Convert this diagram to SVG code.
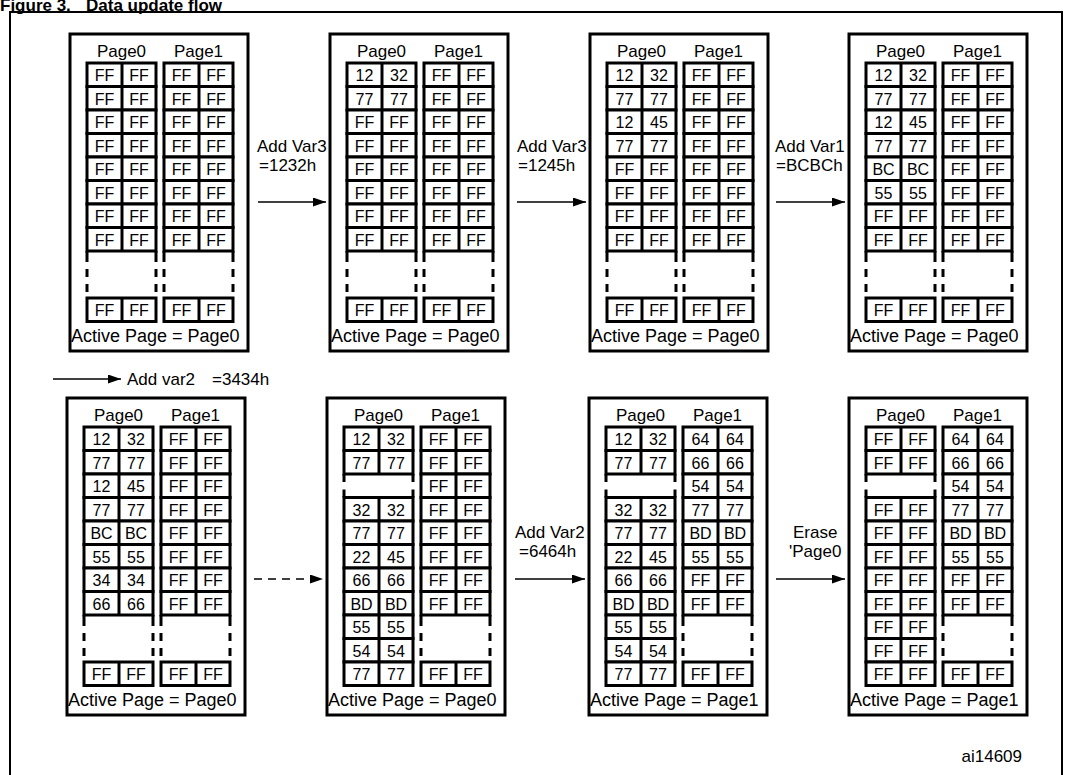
<svg xmlns="http://www.w3.org/2000/svg" xmlns:xlink="http://www.w3.org/1999/xlink" width="1074" height="775" viewBox="0 0 1074 775">
<style>
.f{fill:#fff;stroke:#000;stroke-width:3}
.b{fill:none;stroke:#000;stroke-width:3}
.pb{fill:#fff;stroke:#000;stroke-width:3}
text{font-family:"Liberation Sans",Arial,sans-serif;fill:#000}
.r{font-size:16px;text-anchor:middle}
.h{font-size:17px;text-anchor:middle}
.ap{font-size:18px}
.lb{font-size:17px}
.cn{stroke:#000;stroke-width:1.5;fill:none}
.ttl{font-size:17px;font-weight:bold}
</style>
<defs>
<marker id="ah" markerUnits="userSpaceOnUse" markerWidth="13" markerHeight="9" refX="13" refY="4.5" orient="auto"><path d="M0,0 L13,4.5 L0,9 Z" fill="#000"/></marker>
<g id="row"><rect class="f" x="0" y="0" width="69" height="23.5"/><line class="b" x1="35" y1="0" x2="35" y2="23.5"/></g>
<path id="brk" class="b" d="M0 188V199M0 206V214M0 221V229M69 188V199M69 206V214M69 221V229"/>
<path id="gp" class="b" d="M0 47V55M0 62.5V70.5M69 47V55M69 62.5V70.5"/>
<g id="col8"><use href="#row" y="0"/><use href="#row" y="23.5"/><use href="#row" y="47"/><use href="#row" y="70.5"/><use href="#row" y="94"/><use href="#row" y="117.5"/><use href="#row" y="141"/><use href="#row" y="164.5"/><use href="#brk"/><use href="#row" y="235"/></g>
<g id="colg"><use href="#row" y="0"/><use href="#row" y="23.5"/><use href="#gp"/><use href="#row" y="70.5"/><use href="#row" y="94"/><use href="#row" y="117.5"/><use href="#row" y="141"/><use href="#row" y="164.5"/><use href="#row" y="188"/><use href="#row" y="211.5"/><use href="#row" y="235"/></g>
<g id="frame"><rect class="pb" x="0" y="0" width="178" height="317"/><text class="h" x="51.5" y="23">Page0</text><text class="h" x="128.5" y="23">Page1</text></g>
</defs>
<text class="ttl" x="0" y="11">Figure 3.</text>
<text class="ttl" x="86" y="11">Data update flow</text>
<rect x="10" y="12" width="1052" height="800" fill="none" stroke="#000" stroke-width="2"/>

<g id="p1" transform="translate(70,34)">
<use href="#frame"/><use href="#col8" x="17" y="29"/><use href="#col8" x="94" y="29"/>
<g class="r">
<text y="47"><tspan x="34.5">FF</tspan><tspan x="69">FF</tspan><tspan x="111.5">FF</tspan><tspan x="146">FF</tspan></text>
<text y="70.5"><tspan x="34.5">FF</tspan><tspan x="69">FF</tspan><tspan x="111.5">FF</tspan><tspan x="146">FF</tspan></text>
<text y="94"><tspan x="34.5">FF</tspan><tspan x="69">FF</tspan><tspan x="111.5">FF</tspan><tspan x="146">FF</tspan></text>
<text y="117.5"><tspan x="34.5">FF</tspan><tspan x="69">FF</tspan><tspan x="111.5">FF</tspan><tspan x="146">FF</tspan></text>
<text y="141"><tspan x="34.5">FF</tspan><tspan x="69">FF</tspan><tspan x="111.5">FF</tspan><tspan x="146">FF</tspan></text>
<text y="164.5"><tspan x="34.5">FF</tspan><tspan x="69">FF</tspan><tspan x="111.5">FF</tspan><tspan x="146">FF</tspan></text>
<text y="188"><tspan x="34.5">FF</tspan><tspan x="69">FF</tspan><tspan x="111.5">FF</tspan><tspan x="146">FF</tspan></text>
<text y="211.5"><tspan x="34.5">FF</tspan><tspan x="69">FF</tspan><tspan x="111.5">FF</tspan><tspan x="146">FF</tspan></text>
<text y="282"><tspan x="34.5">FF</tspan><tspan x="69">FF</tspan><tspan x="111.5">FF</tspan><tspan x="146">FF</tspan></text>
</g>
<text class="ap" x="1" y="308">Active Page = Page0</text>
</g>

<g id="p2" transform="translate(330,34)">
<use href="#frame"/><use href="#col8" x="17" y="29"/><use href="#col8" x="94" y="29"/>
<g class="r">
<text y="47"><tspan x="34.5">12</tspan><tspan x="69">32</tspan><tspan x="111.5">FF</tspan><tspan x="146">FF</tspan></text>
<text y="70.5"><tspan x="34.5">77</tspan><tspan x="69">77</tspan><tspan x="111.5">FF</tspan><tspan x="146">FF</tspan></text>
<text y="94"><tspan x="34.5">FF</tspan><tspan x="69">FF</tspan><tspan x="111.5">FF</tspan><tspan x="146">FF</tspan></text>
<text y="117.5"><tspan x="34.5">FF</tspan><tspan x="69">FF</tspan><tspan x="111.5">FF</tspan><tspan x="146">FF</tspan></text>
<text y="141"><tspan x="34.5">FF</tspan><tspan x="69">FF</tspan><tspan x="111.5">FF</tspan><tspan x="146">FF</tspan></text>
<text y="164.5"><tspan x="34.5">FF</tspan><tspan x="69">FF</tspan><tspan x="111.5">FF</tspan><tspan x="146">FF</tspan></text>
<text y="188"><tspan x="34.5">FF</tspan><tspan x="69">FF</tspan><tspan x="111.5">FF</tspan><tspan x="146">FF</tspan></text>
<text y="211.5"><tspan x="34.5">FF</tspan><tspan x="69">FF</tspan><tspan x="111.5">FF</tspan><tspan x="146">FF</tspan></text>
<text y="282"><tspan x="34.5">FF</tspan><tspan x="69">FF</tspan><tspan x="111.5">FF</tspan><tspan x="146">FF</tspan></text>
</g>
<text class="ap" x="1" y="308">Active Page = Page0</text>
</g>

<g id="p3" transform="translate(590,34)">
<use href="#frame"/><use href="#col8" x="17" y="29"/><use href="#col8" x="94" y="29"/>
<g class="r">
<text y="47"><tspan x="34.5">12</tspan><tspan x="69">32</tspan><tspan x="111.5">FF</tspan><tspan x="146">FF</tspan></text>
<text y="70.5"><tspan x="34.5">77</tspan><tspan x="69">77</tspan><tspan x="111.5">FF</tspan><tspan x="146">FF</tspan></text>
<text y="94"><tspan x="34.5">12</tspan><tspan x="69">45</tspan><tspan x="111.5">FF</tspan><tspan x="146">FF</tspan></text>
<text y="117.5"><tspan x="34.5">77</tspan><tspan x="69">77</tspan><tspan x="111.5">FF</tspan><tspan x="146">FF</tspan></text>
<text y="141"><tspan x="34.5">FF</tspan><tspan x="69">FF</tspan><tspan x="111.5">FF</tspan><tspan x="146">FF</tspan></text>
<text y="164.5"><tspan x="34.5">FF</tspan><tspan x="69">FF</tspan><tspan x="111.5">FF</tspan><tspan x="146">FF</tspan></text>
<text y="188"><tspan x="34.5">FF</tspan><tspan x="69">FF</tspan><tspan x="111.5">FF</tspan><tspan x="146">FF</tspan></text>
<text y="211.5"><tspan x="34.5">FF</tspan><tspan x="69">FF</tspan><tspan x="111.5">FF</tspan><tspan x="146">FF</tspan></text>
<text y="282"><tspan x="34.5">FF</tspan><tspan x="69">FF</tspan><tspan x="111.5">FF</tspan><tspan x="146">FF</tspan></text>
</g>
<text class="ap" x="1" y="308">Active Page = Page0</text>
</g>

<g id="p4" transform="translate(849,34)">
<use href="#frame"/><use href="#col8" x="17" y="29"/><use href="#col8" x="94" y="29"/>
<g class="r">
<text y="47"><tspan x="34.5">12</tspan><tspan x="69">32</tspan><tspan x="111.5">FF</tspan><tspan x="146">FF</tspan></text>
<text y="70.5"><tspan x="34.5">77</tspan><tspan x="69">77</tspan><tspan x="111.5">FF</tspan><tspan x="146">FF</tspan></text>
<text y="94"><tspan x="34.5">12</tspan><tspan x="69">45</tspan><tspan x="111.5">FF</tspan><tspan x="146">FF</tspan></text>
<text y="117.5"><tspan x="34.5">77</tspan><tspan x="69">77</tspan><tspan x="111.5">FF</tspan><tspan x="146">FF</tspan></text>
<text y="141"><tspan x="34.5">BC</tspan><tspan x="69">BC</tspan><tspan x="111.5">FF</tspan><tspan x="146">FF</tspan></text>
<text y="164.5"><tspan x="34.5">55</tspan><tspan x="69">55</tspan><tspan x="111.5">FF</tspan><tspan x="146">FF</tspan></text>
<text y="188"><tspan x="34.5">FF</tspan><tspan x="69">FF</tspan><tspan x="111.5">FF</tspan><tspan x="146">FF</tspan></text>
<text y="211.5"><tspan x="34.5">FF</tspan><tspan x="69">FF</tspan><tspan x="111.5">FF</tspan><tspan x="146">FF</tspan></text>
<text y="282"><tspan x="34.5">FF</tspan><tspan x="69">FF</tspan><tspan x="111.5">FF</tspan><tspan x="146">FF</tspan></text>
</g>
<text class="ap" x="1" y="308">Active Page = Page0</text>
</g>

<g id="p5" transform="translate(67,398)">
<use href="#frame"/><use href="#col8" x="17" y="29"/><use href="#col8" x="94" y="29"/>
<g class="r">
<text y="47"><tspan x="34.5">12</tspan><tspan x="69">32</tspan><tspan x="111.5">FF</tspan><tspan x="146">FF</tspan></text>
<text y="70.5"><tspan x="34.5">77</tspan><tspan x="69">77</tspan><tspan x="111.5">FF</tspan><tspan x="146">FF</tspan></text>
<text y="94"><tspan x="34.5">12</tspan><tspan x="69">45</tspan><tspan x="111.5">FF</tspan><tspan x="146">FF</tspan></text>
<text y="117.5"><tspan x="34.5">77</tspan><tspan x="69">77</tspan><tspan x="111.5">FF</tspan><tspan x="146">FF</tspan></text>
<text y="141"><tspan x="34.5">BC</tspan><tspan x="69">BC</tspan><tspan x="111.5">FF</tspan><tspan x="146">FF</tspan></text>
<text y="164.5"><tspan x="34.5">55</tspan><tspan x="69">55</tspan><tspan x="111.5">FF</tspan><tspan x="146">FF</tspan></text>
<text y="188"><tspan x="34.5">34</tspan><tspan x="69">34</tspan><tspan x="111.5">FF</tspan><tspan x="146">FF</tspan></text>
<text y="211.5"><tspan x="34.5">66</tspan><tspan x="69">66</tspan><tspan x="111.5">FF</tspan><tspan x="146">FF</tspan></text>
<text y="282"><tspan x="34.5">FF</tspan><tspan x="69">FF</tspan><tspan x="111.5">FF</tspan><tspan x="146">FF</tspan></text>
</g>
<text class="ap" x="1" y="308">Active Page = Page0</text>
</g>

<g id="p6" transform="translate(327,398)">
<use href="#frame"/><use href="#colg" x="17" y="29"/><use href="#col8" x="94" y="29"/>
<g class="r">
<text y="47"><tspan x="34.5">12</tspan><tspan x="69">32</tspan><tspan x="111.5">FF</tspan><tspan x="146">FF</tspan></text>
<text y="70.5"><tspan x="34.5">77</tspan><tspan x="69">77</tspan><tspan x="111.5">FF</tspan><tspan x="146">FF</tspan></text>
<text y="94"><tspan x="111.5">FF</tspan><tspan x="146">FF</tspan></text>
<text y="117.5"><tspan x="34.5">32</tspan><tspan x="69">32</tspan><tspan x="111.5">FF</tspan><tspan x="146">FF</tspan></text>
<text y="141"><tspan x="34.5">77</tspan><tspan x="69">77</tspan><tspan x="111.5">FF</tspan><tspan x="146">FF</tspan></text>
<text y="164.5"><tspan x="34.5">22</tspan><tspan x="69">45</tspan><tspan x="111.5">FF</tspan><tspan x="146">FF</tspan></text>
<text y="188"><tspan x="34.5">66</tspan><tspan x="69">66</tspan><tspan x="111.5">FF</tspan><tspan x="146">FF</tspan></text>
<text y="211.5"><tspan x="34.5">BD</tspan><tspan x="69">BD</tspan><tspan x="111.5">FF</tspan><tspan x="146">FF</tspan></text>
<text y="235"><tspan x="34.5">55</tspan><tspan x="69">55</tspan></text>
<text y="258.5"><tspan x="34.5">54</tspan><tspan x="69">54</tspan></text>
<text y="282"><tspan x="34.5">77</tspan><tspan x="69">77</tspan><tspan x="111.5">FF</tspan><tspan x="146">FF</tspan></text>
</g>
<text class="ap" x="1" y="308">Active Page = Page0</text>
</g>

<g id="p7" transform="translate(589,398)">
<use href="#frame"/><use href="#colg" x="17" y="29"/><use href="#col8" x="94" y="29"/>
<g class="r">
<text y="47"><tspan x="34.5">12</tspan><tspan x="69">32</tspan><tspan x="111.5">64</tspan><tspan x="146">64</tspan></text>
<text y="70.5"><tspan x="34.5">77</tspan><tspan x="69">77</tspan><tspan x="111.5">66</tspan><tspan x="146">66</tspan></text>
<text y="94"><tspan x="111.5">54</tspan><tspan x="146">54</tspan></text>
<text y="117.5"><tspan x="34.5">32</tspan><tspan x="69">32</tspan><tspan x="111.5">77</tspan><tspan x="146">77</tspan></text>
<text y="141"><tspan x="34.5">77</tspan><tspan x="69">77</tspan><tspan x="111.5">BD</tspan><tspan x="146">BD</tspan></text>
<text y="164.5"><tspan x="34.5">22</tspan><tspan x="69">45</tspan><tspan x="111.5">55</tspan><tspan x="146">55</tspan></text>
<text y="188"><tspan x="34.5">66</tspan><tspan x="69">66</tspan><tspan x="111.5">FF</tspan><tspan x="146">FF</tspan></text>
<text y="211.5"><tspan x="34.5">BD</tspan><tspan x="69">BD</tspan><tspan x="111.5">FF</tspan><tspan x="146">FF</tspan></text>
<text y="235"><tspan x="34.5">55</tspan><tspan x="69">55</tspan></text>
<text y="258.5"><tspan x="34.5">54</tspan><tspan x="69">54</tspan></text>
<text y="282"><tspan x="34.5">77</tspan><tspan x="69">77</tspan><tspan x="111.5">FF</tspan><tspan x="146">FF</tspan></text>
</g>
<text class="ap" x="1" y="308">Active Page = Page1</text>
</g>

<g id="p8" transform="translate(849,398)">
<use href="#frame"/><use href="#colg" x="17" y="29"/><use href="#col8" x="94" y="29"/>
<g class="r">
<text y="47"><tspan x="34.5">FF</tspan><tspan x="69">FF</tspan><tspan x="111.5">64</tspan><tspan x="146">64</tspan></text>
<text y="70.5"><tspan x="34.5">FF</tspan><tspan x="69">FF</tspan><tspan x="111.5">66</tspan><tspan x="146">66</tspan></text>
<text y="94"><tspan x="111.5">54</tspan><tspan x="146">54</tspan></text>
<text y="117.5"><tspan x="34.5">FF</tspan><tspan x="69">FF</tspan><tspan x="111.5">77</tspan><tspan x="146">77</tspan></text>
<text y="141"><tspan x="34.5">FF</tspan><tspan x="69">FF</tspan><tspan x="111.5">BD</tspan><tspan x="146">BD</tspan></text>
<text y="164.5"><tspan x="34.5">FF</tspan><tspan x="69">FF</tspan><tspan x="111.5">55</tspan><tspan x="146">55</tspan></text>
<text y="188"><tspan x="34.5">FF</tspan><tspan x="69">FF</tspan><tspan x="111.5">FF</tspan><tspan x="146">FF</tspan></text>
<text y="211.5"><tspan x="34.5">FF</tspan><tspan x="69">FF</tspan><tspan x="111.5">FF</tspan><tspan x="146">FF</tspan></text>
<text y="235"><tspan x="34.5">FF</tspan><tspan x="69">FF</tspan></text>
<text y="258.5"><tspan x="34.5">FF</tspan><tspan x="69">FF</tspan></text>
<text y="282"><tspan x="34.5">FF</tspan><tspan x="69">FF</tspan><tspan x="111.5">FF</tspan><tspan x="146">FF</tspan></text>
</g>
<text class="ap" x="1" y="308">Active Page = Page1</text>
</g>

<g id="connectors">
<line class="cn" x1="258" y1="202" x2="326" y2="202" marker-end="url(#ah)"/>
<line class="cn" x1="517" y1="202" x2="586" y2="202" marker-end="url(#ah)"/>
<line class="cn" x1="776" y1="202" x2="845" y2="202" marker-end="url(#ah)"/>
<line class="cn" x1="53" y1="379" x2="121" y2="379" marker-end="url(#ah)"/>
<line class="cn" x1="254" y1="579" x2="323" y2="579" stroke-dasharray="8 6" marker-end="url(#ah)"/>
<line class="cn" x1="515" y1="579" x2="585" y2="579" marker-end="url(#ah)"/>
<line class="cn" x1="776" y1="579" x2="845" y2="579" marker-end="url(#ah)"/>
</g>
<g id="labels" class="lb">
<text class="lb" x="257" y="152">Add Var3</text>
<text class="lb" x="259" y="171">=1232h</text>
<text class="lb" x="517" y="152">Add Var3</text>
<text class="lb" x="518" y="171">=1245h</text>
<text class="lb" x="775" y="152">Add Var1</text>
<text class="lb" x="776" y="171">=BCBCh</text>
<text class="lb" x="127" y="385">Add var2</text>
<text class="lb" x="212" y="385">=3434h</text>
<text class="lb" x="515" y="538">Add Var2</text>
<text class="lb" x="519" y="557">=6464h</text>
<text class="lb" x="793" y="538">Erase</text>
<text class="lb" x="789" y="557">'Page0</text>
<text class="lb" x="1022" y="762" text-anchor="end">ai14609</text>
</g>
</svg>
